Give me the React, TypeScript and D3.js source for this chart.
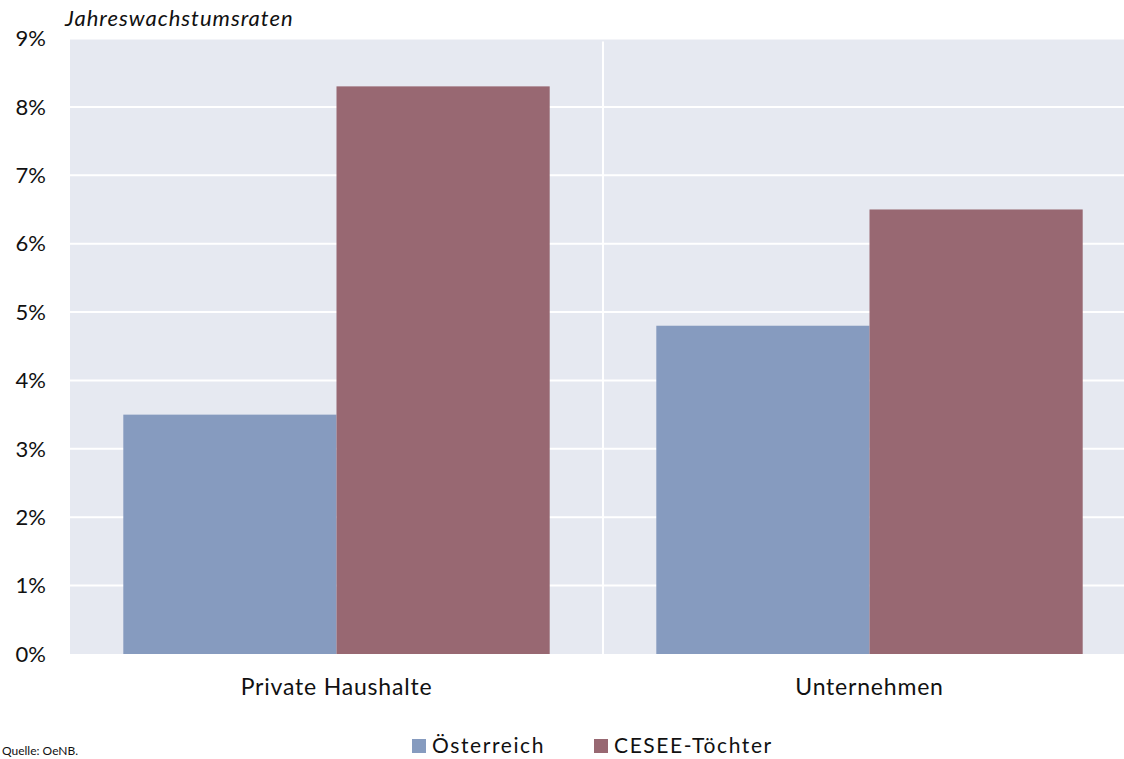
import * as d3 from "d3";
import React, { useEffect, useRef } from "react";

const categories = ["Private Haushalte", "Unternehmen"];
const seriesNames = ["Österreich", "CESEE-Töchter"];
const oesterreich = [3.5, 4.8];
const cesee = [8.3, 6.5];
const yTicks = [0, 1, 2, 3, 4, 5, 6, 7, 8, 9];
const colors = ["#869bbf", "#986872"];

const font = "'Lato', 'Open Sans', sans-serif";

export default function App() {
  const ref = useRef<SVGSVGElement | null>(null);

  useEffect(() => {
    const svg = d3.select(ref.current);
    svg.selectAll("*").remove();

    const left = 70, right = 1136, top = 38.5, bottom = 654;

    const x = d3.scaleBand().domain(categories).range([left, right]);
    const xs = d3.scaleBand().domain(seriesNames).range([0, x.bandwidth()]).paddingOuter(0.25).paddingInner(0);
    const y = d3.scaleLinear().domain([0, 9]).range([bottom, top]);

    svg.append("rect").attr("x", left).attr("y", top).attr("width", right - left).attr("height", bottom - top).attr("fill", "#e6e9f1");

    svg.append("g").selectAll("line").data(yTicks.filter((t) => t > 0)).join("line")
      .attr("x1", left).attr("x2", right)
      .attr("y1", (d) => y(d)).attr("y2", (d) => y(d))
      .attr("stroke", "#fff").attr("stroke-width", 2);

    svg.append("line").attr("x1", x(categories[1])).attr("x2", x(categories[1]))
      .attr("y1", top + 3).attr("y2", bottom).attr("stroke", "#fff").attr("stroke-width", 2);

    const rows = categories.map((c, i) => ({ c, vals: [oesterreich[i], cesee[i]] }));
    const g = svg.append("g").selectAll("g").data(rows).join("g")
      .attr("transform", (d) => `translate(${x(d.c)},0)`);
    g.selectAll("rect").data((d) => d.vals.map((v, j) => ({ v, s: seriesNames[j], j }))).join("rect")
      .attr("x", (d) => xs(d.s)).attr("width", xs.bandwidth())
      .attr("y", (d) => y(d.v)).attr("height", (d) => bottom - y(d.v))
      .attr("fill", (d) => colors[d.j]);

    svg.append("g").selectAll("text").data(yTicks).join("text")
      .attr("x", 46).attr("y", (d) => y(d)).attr("dy", "0.35em")
      .attr("text-anchor", "end").attr("font-family", font).attr("font-size", 22).attr("fill", "#111")
      .text((d) => `${d}%`);

    svg.append("g").selectAll("text").data(categories).join("text")
      .attr("x", (d) => x(d) + x.bandwidth() / 2).attr("y", 695)
      .attr("text-anchor", "middle").attr("font-family", font).attr("font-size", 23)
      .attr("letter-spacing", 0.8).attr("fill", "#111")
      .text((d) => d);

    svg.append("text").attr("x", 65).attr("y", 26).attr("font-family", font).attr("font-style", "italic")
      .attr("font-size", 22).attr("letter-spacing", 1).attr("fill", "#111").text("Jahreswachstumsraten");

    const legendX = [412, 594];
    const lg = svg.append("g").selectAll("g").data(seriesNames).join("g")
      .attr("transform", (d, i) => `translate(${legendX[i]},739)`);
    lg.append("rect").attr("width", 14).attr("height", 14).attr("fill", (d, i) => colors[i]);
    lg.append("text").attr("x", 20).attr("y", 14).attr("font-family", font).attr("font-size", 21)
      .attr("letter-spacing", 1.6).attr("fill", "#111").text((d) => d);

    svg.append("text").attr("x", 2).attr("y", 755).attr("font-family", font).attr("font-size", 12).attr("fill", "#111").text("Quelle: OeNB.");
  }, []);

  return (
    <svg ref={ref} width={1124} height={759} style={{ position: "absolute", left: 0, top: 0, background: "#fff" }} />
  );
}
